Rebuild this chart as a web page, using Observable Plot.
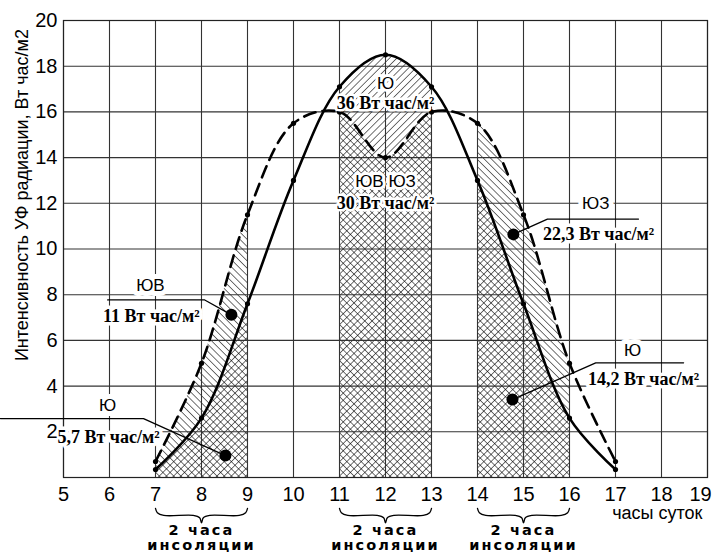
<!DOCTYPE html>
<html>
<head>
<meta charset="utf-8">
<script src="https://cdn.jsdelivr.net/npm/d3@7"></script>
<script src="https://cdn.jsdelivr.net/npm/@observablehq/plot@0.6"></script>
<style>
  html, body { margin: 0; padding: 0; background: white; }
</style>
</head>
<body>
<div id="chart"></div>
<script>
// ---- data ----
const hours = [7, 8, 9, 10, 11, 12, 13, 14, 15, 16, 17];
const southUV = [0.35, 2.6, 7.6, 13, 17.1, 18.5, 17.1, 13, 7.6, 2.6, 0.35];      // Ю (solid)
const seswUV  = [0.7, 5, 11.5, 15.5, 16, 14, 16, 15.5, 11.5, 5, 0.7];            // ЮВ / ЮЗ (dashed)

const xTickLabels = [5, 6, 7, 8, 9, 10, 11, 12, 13, 14, 15, 16, 17, 18, 19];
const yTickLabels = [2, 4, 6, 8, 10, 12, 14, 16, 18, 20];
const yGridValues = [0, 2, 4, 6, 8, 10, 12, 14, 16, 18, 20];
const yAxisTitle = "Интенсивность УФ радиации, Вт час/м2";
const xAxisTitle = "часы суток";

const insolationStart = [7, 11, 14];
const insolationEnd = [9, 13, 16];
const insolationText = ["2 часа", "инсоляции"];

const calloutDirections = ["Ю", "ЮВ", "ЮЗ", "Ю"];
const calloutValues = ["5,7 Вт час/м²", "11 Вт час/м²", "22,3 Вт час/м²", "14,2 Вт час/м²"];
const calloutDotX = [8.52, 8.65, 14.78, 14.76];
const calloutDotY = [0.96, 7.12, 10.64, 3.41];
const calloutElbowX = [6.74, 8.07, 15.52, 16.57];
const calloutElbowY = [2.58, 7.77, 11.31, 5.02];
const calloutEndX = [3.63, 5.96, 17.5, 18.48];
const calloutLabelX = [5.96, 6.89, 16.57, 17.37];
const calloutLabelY = [3.14, 8.38, 12.0, 5.55];
const calloutValueX = [5.98, 6.91, 16.63, 17.61];
const calloutValueY = [1.75, 7.07, 10.66, 4.32];

const centerTexts = ["Ю", "36 Вт час/м²", "ЮВ ЮЗ", "30 Вт час/м²"];
const centerTextBold = [false, true, false, true];
const centerTextX = 12;
const centerTextY = [17.25, 16.4, 12.97, 12.0];

// ---- tables built from the arrays ----
const rows = hours.map((h, i) => ({h, south: southUV[i], sesw: seswUV[i]}));
const callouts = calloutDirections.map((d, i) => ({
  dir: d, val: calloutValues[i],
  dx: calloutDotX[i], dy: calloutDotY[i],
  ex: calloutElbowX[i], ey: calloutElbowY[i],
  tx: calloutEndX[i],
  lx: calloutLabelX[i], ly: calloutLabelY[i],
  vx: calloutValueX[i], vy: calloutValueY[i]
}));
const leaderPts = callouts.flatMap((c, i) => [
  {k: i, x: c.tx, y: c.ey},
  {k: i, x: c.ex, y: c.ey},
  {k: i, x: c.dx, y: c.dy}
]);
const centerRows = centerTexts.map((t, i) => ({t, y: centerTextY[i], bold: centerTextBold[i]}));

// curly brace shape under each insolation span (in the area below the x axis)
const bTop = -1.35, bMid = -1.66, bTip = -1.98;
const bracePts = insolationStart.flatMap((s, i) => {
  const e = insolationEnd[i], m = (s + e) / 2;
  return [
    [s, bTop], [s + 0.04, bMid + 0.12], [s + 0.18, bMid], [m - 0.18, bMid],
    [m - 0.04, bMid - 0.1], [m, bTip], [m + 0.04, bMid - 0.1], [m + 0.18, bMid],
    [e - 0.18, bMid], [e - 0.04, bMid + 0.12], [e, bTop]
  ].map(([x, y]) => ({k: i, x, y}));
});
const insolationRows = insolationStart.map((s, i) =>
  ({x: (s + insolationEnd[i]) / 2, y: -2.65, t: insolationText.join("\n")}));

const curve = "catmull-rom";
const serif = "Liberation Serif, Times New Roman, serif";
const lastX = xTickLabels[xTickLabels.length - 1];

const plot = Plot.plot({
  width: 712,
  height: 553,
  marginLeft: 63,
  marginRight: 5,
  marginTop: 20,
  marginBottom: 76,
  x: {domain: [5, 19]},
  y: {domain: [0, 20]},
  style: {fontFamily: "Liberation Sans, Arial, sans-serif", background: "white", color: "black"},
  marks: [
    // hatched areas (clipped to the insolation spans afterwards)
    Plot.areaY(rows, {x: "h", y: "south", curve, fill: "url(#hatchFwd)"}),
    Plot.areaY(rows, {x: "h", y: "sesw", curve, fill: "url(#hatchBack)"}),
    // grid
    Plot.ruleX(xTickLabels, {stroke: "#333", strokeWidth: 1.1}),
    Plot.ruleY(yGridValues, {stroke: "#333", strokeWidth: 1.1}),
    Plot.frame({stroke: "#222", strokeWidth: 1.2}),
    // axis titles
    Plot.text([yAxisTitle], {x: 4.11, y: 12.36, rotate: -90, fontSize: 18, text: d => d}),
    Plot.text([xAxisTitle], {x: 17.91, y: -1.57, fontSize: 18, text: d => d}),
    // curves
    Plot.line(rows, {x: "h", y: "sesw", curve, stroke: "black", strokeWidth: 2.6, strokeDasharray: "12,7"}),
    Plot.line(rows, {x: "h", y: "south", curve, stroke: "black", strokeWidth: 2.6}),
    Plot.dot(rows, {x: "h", y: "sesw", r: 2.6, fill: "black"}),
    Plot.dot(rows, {x: "h", y: "south", r: 2.6, fill: "black"}),
    // center labels
    Plot.text(centerRows.filter(d => !d.bold), {x: centerTextX, y: "y", text: "t", fontSize: 17, stroke: "white", strokeWidth: 6, fill: "black"}),
    Plot.text(centerRows.filter(d => d.bold), {x: centerTextX, y: "y", text: "t", fontSize: 18, fontWeight: "bold", fontFamily: serif, stroke: "white", strokeWidth: 5, fill: "black"}),
    // callouts
    Plot.text(callouts, {x: "lx", y: "ly", text: "dir", fontSize: 17, stroke: "white", strokeWidth: 10, fill: "black"}),
    Plot.text(callouts, {x: "vx", y: "vy", text: "val", fontSize: 18, fontWeight: "bold", fontFamily: serif, stroke: "white", strokeWidth: 7, fill: "black"}),
    Plot.line(leaderPts, {x: "x", y: "y", z: "k", stroke: "black", strokeWidth: 1.3}),
    Plot.dot(callouts, {x: "dx", y: "dy", r: 6, fill: "black"}),
    // axes (drawn on top)
    Plot.axisX(xTickLabels.filter(d => d !== lastX), {tickSize: 0, tickPadding: 9, fontSize: 20, label: null}),
    Plot.axisX([lastX], {tickSize: 0, tickPadding: 9, fontSize: 20, label: null, dx: -7}),
    Plot.axisY(yTickLabels, {tickSize: 0, tickPadding: 6, fontSize: 20, label: null}),
    // braces and insolation texts
    Plot.line(bracePts, {x: "x", y: "y", z: "k", curve: "catmull-rom", stroke: "black", strokeWidth: 1.3}),
    Plot.text(insolationRows, {x: "x", y: "y", text: "t", fontSize: 14.5, lineHeight: 1, fontWeight: "bold", fontFamily: "DejaVu Sans, sans-serif"})
  ]
});

// patterns and clipping for the hatched areas
const svg = d3.select(plot);
const defs = svg.insert("defs", ":first-child");
function hatch(id, angle) {
  const p = defs.append("pattern")
    .attr("id", id).attr("patternUnits", "userSpaceOnUse")
    .attr("width", 5.1).attr("height", 5.1)
    .attr("patternTransform", `rotate(${angle})`);
  p.append("line").attr("x1", 0).attr("y1", -1).attr("x2", 0).attr("y2", 7)
    .attr("stroke", "black").attr("stroke-width", 1.1);
}
hatch("hatchFwd", 45);
hatch("hatchBack", -45);
const xs = plot.scale("x"), ys = plot.scale("y");
const clip = defs.append("clipPath").attr("id", "insolationClip");
insolationStart.forEach((s, i) => {
  const x0 = xs.apply(s), x1 = xs.apply(insolationEnd[i]);
  clip.append("rect").attr("x", x0).attr("width", x1 - x0)
    .attr("y", ys.apply(20) - 5).attr("height", ys.apply(0) - ys.apply(20) + 5);
});
svg.selectAll('g[aria-label="area"]').attr("clip-path", "url(#insolationClip)");
svg.selectAll("text").filter(function () { return this.textContent.includes(insolationText[1]); })
  .style("letter-spacing", "2.1px");

document.getElementById("chart").appendChild(plot);
</script>
</body>
</html>
